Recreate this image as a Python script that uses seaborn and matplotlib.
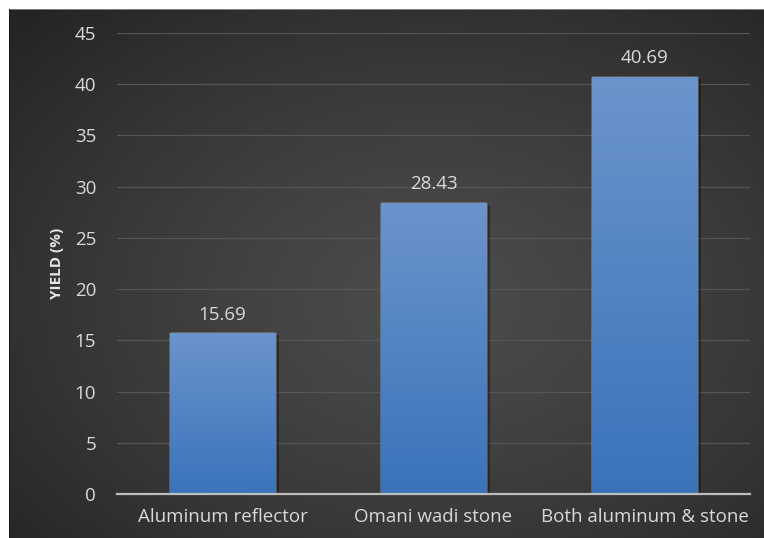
import numpy as np
import pandas as pd
import matplotlib
matplotlib.use("Agg")
import matplotlib.pyplot as plt
import matplotlib.patheffects as pe
import seaborn as sns

# Data
categories = ["Aluminum reflector", "Omani wadi stone", "Both aluminum & stone"]
yield_pct = [15.69, 28.43, 40.69]
y_ticks = [0, 5, 10, 15, 20, 25, 30, 35, 40, 45]

df = pd.DataFrame({"setup": categories, "yield": yield_pct})

sns.set_theme(style="dark")
plt.rcParams["font.family"] = ["Open Sans", "DejaVu Sans"]

W, H = 764, 538
fig = plt.figure(figsize=(W / 100, H / 100), dpi=100, facecolor="white")

# Dark panel with a soft radial glow
bg = fig.add_axes([9 / W, 0, (W - 9) / W, (H - 9) / H], zorder=-5)
ny, nx = 300, 420
yy, xx = np.mgrid[0:ny, 0:nx]
cx, cy = nx * 0.56, ny * 0.55
r = np.sqrt(((xx - cx) / nx) ** 2 + ((yy - cy) / ny) ** 2)
r = np.clip(r / 0.75, 0, 1)
shade = 0.295 - 0.15 * r ** 1.3
img = np.dstack([shade, shade, shade])
bg.imshow(img, extent=[0, 1, 0, 1], aspect="auto", origin="upper")
bg.set_axis_off()
bg.add_line(plt.Line2D([0, 1], [1, 1], color="#8a8a8a", lw=1.2, transform=bg.transAxes))
bg.add_line(plt.Line2D([0, 0], [0, 1], color="#1a1a1a", lw=1.5, transform=bg.transAxes))

ax = fig.add_axes([117 / W, 1 - 494 / H, (750 - 117) / W, (494 - 33) / H])
ax.patch.set_alpha(0)

sns.barplot(data=df, x="setup", y="yield", color="#4a7fc4", width=0.5,
            saturation=1, ax=ax, zorder=3)

ax.set_ylim(0, 45)
ax.set_xlim(-0.5, 2.5)
ax.set_yticks(y_ticks)
ax.grid(axis="y", color="#555555", lw=0.9, zorder=0)
ax.grid(axis="x", visible=False)
for s in ["top", "right", "left"]:
    ax.spines[s].set_visible(False)
ax.spines["bottom"].set_color("#bdbdbd")
ax.spines["bottom"].set_linewidth(1.6)
ax.spines["bottom"].set_zorder(5)

# Vertical gradient fill inside each bar
grad = np.linspace(0, 1, 256).reshape(-1, 1)
top_c = np.array([0.42, 0.58, 0.80])
bot_c = np.array([0.23, 0.45, 0.73])
gimg = top_c[None, None, :] * (1 - grad[:, :, None]) + bot_c[None, None, :] * grad[:, :, None]
for p in ax.patches:
    p.set_path_effects([pe.SimplePatchShadow(offset=(2.5, -1.5), shadow_rgbFace="black", alpha=0.35),
                        pe.Normal()])
    x0, y0 = p.get_x(), p.get_y()
    w, h = p.get_width(), p.get_height()
    im = ax.imshow(gimg, extent=[x0, x0 + w, y0, y0 + h], aspect="auto",
                   origin="upper", zorder=4)
    im.set_clip_path(p)

for p, v in zip(ax.patches, yield_pct):
    ax.annotate(f"{v:.2f}", (p.get_x() + p.get_width() / 2, v),
                xytext=(0, 7), textcoords="offset points", ha="center", va="bottom",
                color="#d9d9d9", fontsize=13.5, zorder=6)

ax.set_xlim(-0.5, 2.5)
ax.set_ylim(0, 45)
ax.tick_params(axis="both", colors="#d9d9d9", labelsize=13.5, length=0)
ax.tick_params(axis="y", pad=15)
ax.tick_params(axis="x", pad=10)
ax.set_xlabel("")
ax.set_ylabel("YIELD (%)", color="#e6e6e6", fontsize=11, fontweight="bold", labelpad=8)

fig.savefig("out.png", dpi=100, facecolor="white")
